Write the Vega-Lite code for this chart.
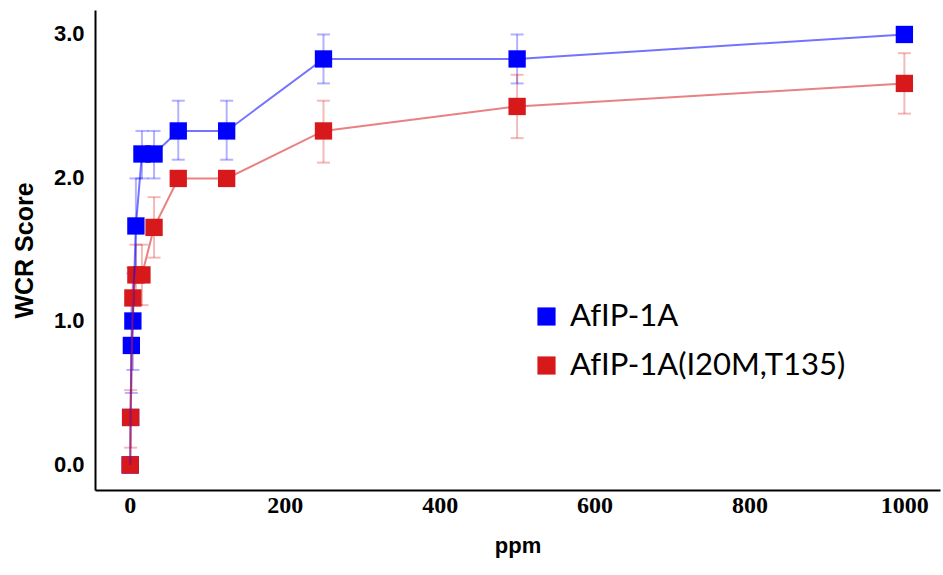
{
  "$schema": "https://vega.github.io/schema/vega-lite/v6.json",
  "width": 845,
  "height": 480,
  "autosize": "none",
  "padding": {"left": 95, "top": 10, "right": 3, "bottom": 85},
  "background": "white",
  "config": {
    "view": {"stroke": null},
    "font": "Liberation Sans"
  },
  "data": {
    "values": [
      {"series": "AfIP-1A", "ppm": 0.49, "score": 0.0, "lo": null, "hi": null},
      {"series": "AfIP-1A", "ppm": 0.98, "score": 0.33, "lo": null, "hi": null},
      {"series": "AfIP-1A", "ppm": 1.95, "score": 0.83, "lo": 0.5, "hi": 1.16},
      {"series": "AfIP-1A", "ppm": 3.9, "score": 1.0, "lo": 0.66, "hi": 1.33},
      {"series": "AfIP-1A", "ppm": 7.8, "score": 1.66, "lo": 1.33, "hi": 1.99},
      {"series": "AfIP-1A", "ppm": 15.6, "score": 2.16, "lo": 1.99, "hi": 2.32},
      {"series": "AfIP-1A", "ppm": 31.25, "score": 2.16, "lo": 1.99, "hi": 2.32},
      {"series": "AfIP-1A", "ppm": 62.5, "score": 2.32, "lo": 2.12, "hi": 2.53},
      {"series": "AfIP-1A", "ppm": 125, "score": 2.32, "lo": 2.12, "hi": 2.53},
      {"series": "AfIP-1A", "ppm": 250, "score": 2.82, "lo": 2.65, "hi": 2.99},
      {"series": "AfIP-1A", "ppm": 500, "score": 2.82, "lo": 2.65, "hi": 2.99},
      {"series": "AfIP-1A", "ppm": 1000, "score": 2.99, "lo": null, "hi": null},
      {"series": "AfIP-1A(I20M,T135)", "ppm": 0.49, "score": 0.0, "lo": null, "hi": null},
      {"series": "AfIP-1A(I20M,T135)", "ppm": 0.98, "score": 0.33, "lo": 0.12, "hi": 0.52},
      {"series": "AfIP-1A(I20M,T135)", "ppm": 3.9, "score": 1.16, "lo": 0.95, "hi": 1.37},
      {"series": "AfIP-1A(I20M,T135)", "ppm": 7.8, "score": 1.32, "lo": 1.11, "hi": 1.53},
      {"series": "AfIP-1A(I20M,T135)", "ppm": 15.6, "score": 1.32, "lo": 1.11, "hi": 1.53},
      {"series": "AfIP-1A(I20M,T135)", "ppm": 31.25, "score": 1.65, "lo": 1.44, "hi": 1.86},
      {"series": "AfIP-1A(I20M,T135)", "ppm": 62.5, "score": 1.99, "lo": null, "hi": null},
      {"series": "AfIP-1A(I20M,T135)", "ppm": 125, "score": 1.99, "lo": null, "hi": null},
      {"series": "AfIP-1A(I20M,T135)", "ppm": 250, "score": 2.32, "lo": 2.1, "hi": 2.53},
      {"series": "AfIP-1A(I20M,T135)", "ppm": 500, "score": 2.49, "lo": 2.27, "hi": 2.71},
      {"series": "AfIP-1A(I20M,T135)", "ppm": 1000, "score": 2.65, "lo": 2.44, "hi": 2.86}
    ]
  },
  "encoding": {
    "x": {
      "field": "ppm", "type": "quantitative",
      "scale": {"domain": [-45, 1046], "nice": false, "zero": false},
      "axis": {
        "values": [0, 200, 400, 600, 800, 1000], "format": "d",
        "grid": false, "ticks": false,
        "domainColor": "black", "domainWidth": 2,
        "labelFont": "Liberation Sans Narrow", "labelFontSize": 24, "labelFontWeight": "bold", "labelColor": "black",
        "labelPadding": 3,
        "title": "ppm", "titleFont": "Liberation Sans", "titleFontSize": 22, "titleFontWeight": "bold", "titleColor": "black",
        "titlePadding": 18
      }
    },
    "y": {
      "field": "score", "type": "quantitative",
      "scale": {"domain": [-0.174, 3.16], "nice": false, "zero": false},
      "axis": {
        "values": [0, 1, 2, 3], "format": ".1f",
        "grid": false, "ticks": false,
        "domainColor": "black", "domainWidth": 2,
        "labelFont": "Liberation Sans", "labelFontSize": 22, "labelFontWeight": "bold", "labelColor": "black",
        "labelPadding": 11,
        "title": "WCR Score", "titleFont": "Liberation Sans", "titleFontSize": 25, "titleFontWeight": "bold", "titleColor": "black",
        "titlePadding": 16
      }
    },
    "color": {
      "field": "series", "type": "nominal",
      "scale": {"domain": ["AfIP-1A", "AfIP-1A(I20M,T135)"], "range": ["#0000ff", "#d7191c"]},
      "legend": {
        "title": null, "orient": "none", "legendX": 436, "legendY": 291,
        "symbolType": "square", "symbolSize": 330, "symbolOpacity": 1, "symbolStrokeWidth": 0,
        "labelFont": "Lato", "labelFontSize": 31, "labelColor": "black", "labelLimit": 400,
        "rowPadding": 17, "labelOffset": 8
      }
    }
  },
  "layer": [
    {
      "transform": [{"filter": "isValid(datum.lo)"}],
      "mark": {"type": "rule", "opacity": 0.3, "strokeWidth": 2},
      "encoding": {"y": {"field": "lo", "type": "quantitative"}, "y2": {"field": "hi"}}
    },
    {
      "transform": [{"filter": "isValid(datum.lo)"}],
      "mark": {"type": "tick", "orient": "horizontal", "size": 13, "thickness": 2, "opacity": 0.3},
      "encoding": {"y": {"field": "lo", "type": "quantitative"}}
    },
    {
      "transform": [{"filter": "isValid(datum.lo)"}],
      "mark": {"type": "tick", "orient": "horizontal", "size": 13, "thickness": 2, "opacity": 0.3},
      "encoding": {"y": {"field": "hi", "type": "quantitative"}}
    },
    {
      "mark": {"type": "point", "shape": "square", "filled": true, "size": 300, "opacity": 1},
      "encoding": {}
    },
    {
      "mark": {"type": "line", "strokeWidth": 2, "opacity": 0.55},
      "encoding": {"order": {"field": "ppm", "type": "quantitative"}}
    }
  ]
}
